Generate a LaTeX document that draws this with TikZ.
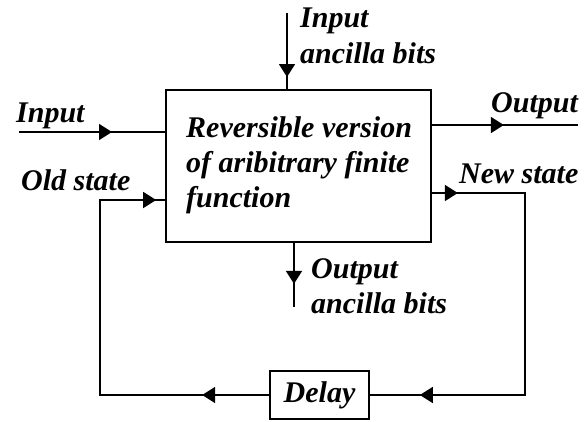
\documentclass[tikz,border=0pt]{standalone}
\usepackage{fontspec}
\setmainfont{Liberation Serif}[BoldItalicFont={Liberation Serif Bold Italic}]
\usetikzlibrary{arrows.meta,decorations.markings}

\begin{document}
\begin{tikzpicture}[x=1pt,y=-1pt,
  wire/.style={line width=1.7pt},
  tipat/.style={postaction={decorate,decoration={markings,
      mark=at position #1 with {\arrow{Triangle[length=13pt,width=16pt]}}}}},
  txt/.style={font=\fontsize{30}{35}\selectfont\bfseries\itshape},
  lbl/.style={txt, inner sep=0pt, anchor=base west},
  blk/.style={draw, line width=1.7pt, inner sep=0pt}]
  \useasboundingbox (0,0) rectangle (584,421);

  % blocks
  \node[blk, minimum width=265pt, minimum height=152pt] (fn) at (298.5,166) {};
  \node[blk, txt, minimum width=99pt, minimum height=48pt] (dl) at (319.5,395) {Delay};

  % free ends and loop corners
  \coordinate (inL) at (19,132);
  \coordinate (outR) at (578,125);
  \coordinate (ancIn) at (287,13);
  \coordinate (ancOut) at (294,307);
  \coordinate (cL) at (100,200);
  \coordinate (cR) at (525,193);

  % connectors
  \draw[wire, tipat=93pt] (inL) -- (inL -| fn.west);
  \draw[wire, tipat=72pt] (fn.east |- outR) -- (outR);
  \draw[wire, tipat=64pt] (ancIn) -- (ancIn |- fn.north);
  \draw[wire, tipat=41pt] (ancOut |- fn.south) -- (ancOut);
  \draw[wire, tipat=26pt, tipat=-50pt] (fn.east |- cR) -- (cR) |- (dl.east);
  \draw[wire, tipat=67pt, tipat=-9pt] (dl.west) -| (cL) -- (cL -| fn.west);

  % labels
  \node[lbl] (tInA) at (300,27) {Input};
  \node[lbl] (tInB) at (300,63) {ancilla bits};
  \node[lbl] (tIn) at (16,122) {Input};
  \node[lbl] (tOld) at (21,190) {Old state};
  \node[lbl] (tOut) at (491,112) {Output};
  \node[lbl] (tNew) at (459,183) {New state};
  \node[lbl] (tFa) at (186,137) {Reversible version};
  \node[lbl] (tFb) at (186,172) {of aribitrary finite};
  \node[lbl] (tFc) at (186,207) {function};
  \node[lbl] (tOutA) at (311,278) {Output};
  \node[lbl] (tOutB) at (311,313) {ancilla bits};
\end{tikzpicture}
\end{document}
